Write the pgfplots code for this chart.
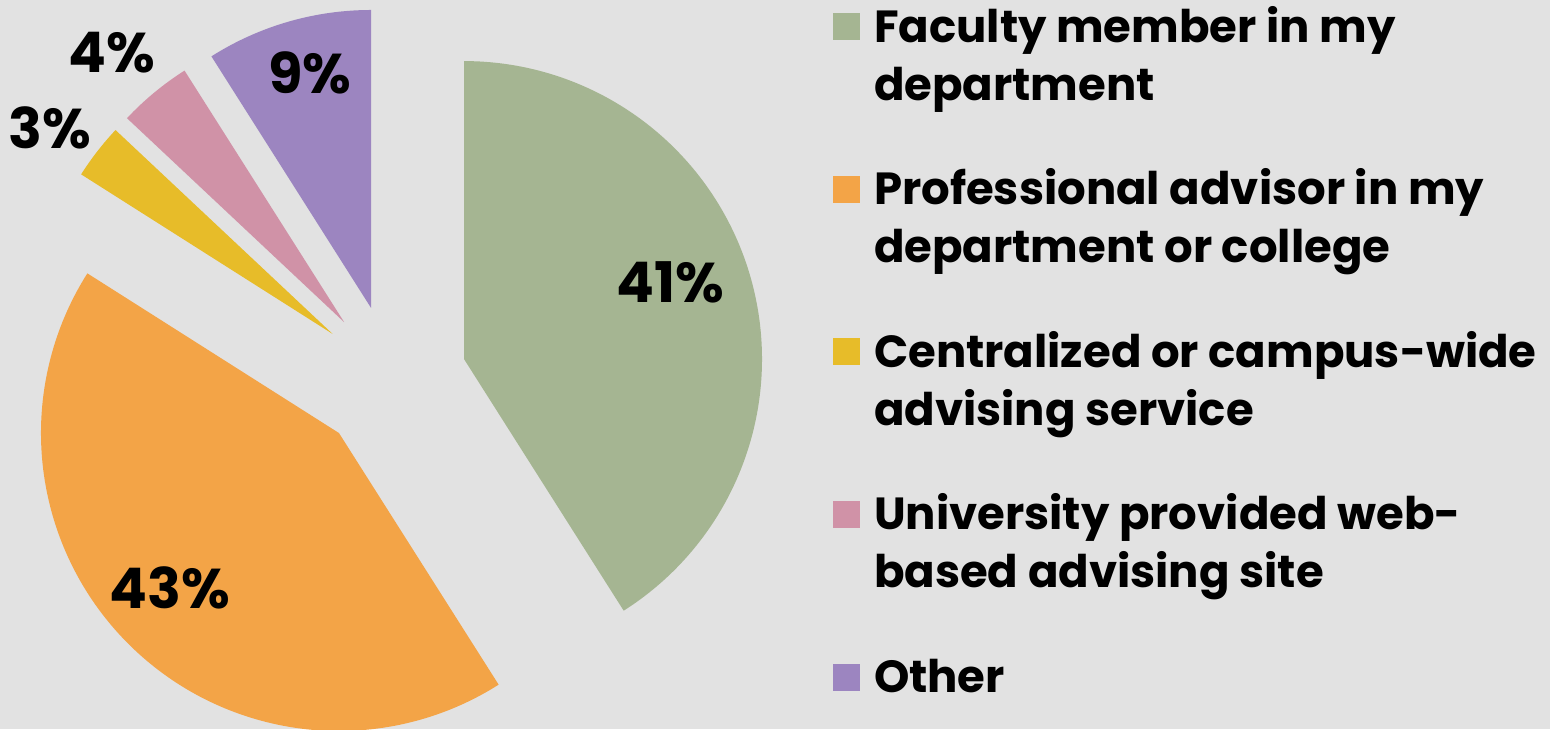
\documentclass[border=0pt]{standalone}
\usepackage{pgfplots}
\pgfplotsset{compat=1.18}
\usepackage{pgfplotstable}
\usepackage{fontspec}
\setmainfont{Poppins}

\definecolor{bg}{RGB}{226,226,226}
\definecolor{c0}{RGB}{165,181,146}
\definecolor{c1}{RGB}{243,164,71}
\definecolor{c2}{RGB}{231,188,41}
\definecolor{c3}{RGB}{208,146,167}
\definecolor{c4}{RGB}{156,133,192}

% value = share in percent; lx, ly = label position (pixels)
\pgfplotstableread{
value lx  ly
41    670 -282
43    170 -588
3     50  -128
4     112 -53
9     310 -73
}\piedata

% pie geometry (pixel units): centre, radius, explosion
\def\pcx{392}\def\pcy{-380}\def\prad{298}\def\pexp{75}

\def\cum{0}
\pgfplotsforeachungrouped \sliceidx in {0,...,4}{%
  \pgfplotstablegetelem{\sliceidx}{value}\of\piedata
  \let\v\pgfplotsretval
  \expandafter\xdef\csname val\sliceidx\endcsname{\v}%
  \pgfmathsetmacro\sa{90-3.6*\cum}%
  \pgfmathsetmacro\cum{\cum+\v}%
  \xdef\cum{\cum}%
  \pgfmathsetmacro\ea{90-3.6*\cum}%
  \pgfmathsetmacro\ma{(\sa+\ea)/2}%
  \pgfmathsetmacro\apx{\pcx+\pexp*cos(\ma)}%
  \pgfmathsetmacro\apy{\pcy+\pexp*sin(\ma)}%
  \expandafter\xdef\csname sa\sliceidx\endcsname{\sa}%
  \expandafter\xdef\csname ea\sliceidx\endcsname{\ea}%
  \expandafter\xdef\csname ax\sliceidx\endcsname{\apx}%
  \expandafter\xdef\csname ay\sliceidx\endcsname{\apy}%
  \pgfplotstablegetelem{\sliceidx}{lx}\of\piedata
  \expandafter\xdef\csname lx\sliceidx\endcsname{\pgfplotsretval}%
  \pgfplotstablegetelem{\sliceidx}{ly}\of\piedata
  \expandafter\xdef\csname ly\sliceidx\endcsname{\pgfplotsretval}%
}

\newcommand\mkent[2]{\begin{tabular}[b]{@{}l@{}}#1\\#2\end{tabular}}
\newcommand\mkone[1]{\begin{tabular}[b]{@{}l@{}}#1\end{tabular}}

\pgfplotsset{
  legtwo/.style={legend image code/.code={\fill[##1] (0pt,30pt) rectangle (13.5pt,43.5pt);}},
  legone/.style={legend image code/.code={\fill[##1] (0pt,1pt) rectangle (13.5pt,14.5pt);}},
  legc0/.style={legtwo}, legc1/.style={legtwo}, legc2/.style={legtwo},
  legc3/.style={legtwo}, legc4/.style={legone},
}

\begin{document}
\begin{tikzpicture}
\begin{axis}[
  width=775pt, height=364.5pt, scale only axis,
  xmin=0, xmax=1550, ymin=-729, ymax=0,
  hide axis,
  legend style={at={(axis cs:833,-1.5)}, anchor=north west, draw=none, fill=none,
    inner sep=0pt, outer sep=0pt,
    font=\fontsize{22.5}{29}\selectfont\bfseries,
    cells={anchor=base west},
    nodes={inner sep=0pt},
    row sep=30.5pt, column sep=7pt},
]
\fill[bg] (rel axis cs:0,0) rectangle (rel axis cs:1,1);
\pgfplotsinvokeforeach{0,...,4}{%
  \edef\doplot{\noexpand\addplot[fill=c#1, draw=none, legc#1,
      domain=\csname ea#1\endcsname:\csname sa#1\endcsname,
      samples=150, variable=\noexpand\t]
    ({\csname ax#1\endcsname+\prad*cos(\noexpand\t)},{\csname ay#1\endcsname+\prad*sin(\noexpand\t)})
    -- (axis cs:\csname ax#1\endcsname,\csname ay#1\endcsname) -- cycle;}%
  \doplot
}
\pgfplotsinvokeforeach{0,...,4}{%
  \edef\dolabel{\noexpand\node[font=\noexpand\fontsize{28}{30}\noexpand\selectfont\noexpand\bfseries]
    at (axis cs:\csname lx#1\endcsname,\csname ly#1\endcsname) {\csname val#1\endcsname\noexpand\%};}%
  \dolabel
}
\legend{\mkent{Faculty member in my}{department},
  \mkent{Professional advisor in my}{department or college},
  \mkent{Centralized or campus-wide}{advising service},
  \mkent{University provided web-}{based advising site},
  \mkone{Other}}
\end{axis}
\pgfresetboundingbox
\useasboundingbox (current axis.south west) rectangle (current axis.north east);
\end{tikzpicture}
\end{document}
